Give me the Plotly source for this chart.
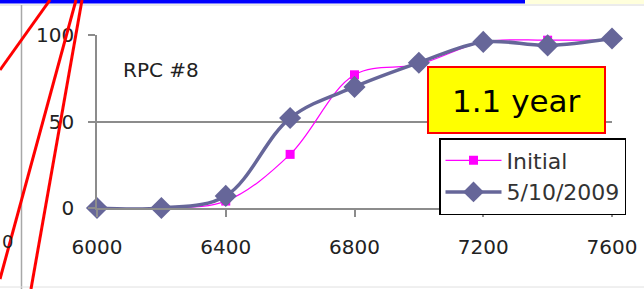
import plotly.graph_objects as go

W, H = 644, 289
ML, MR, MT, MB = 97, 32, 35, 81

x_vals = [6000, 6200, 6400, 6600, 6800, 7000, 7200, 7400, 7600]
initial = [0, 0, 4, 31, 77, 83, 96, 97, 97]
may2009 = [0, 0, 7, 52, 70, 84, 96, 94, 98]
x_ticks = [6000, 6400, 6800, 7200, 7600]
y_ticks = [0, 50, 100]

PW = W - ML - MR
PH = H - MT - MB


def px(x):
    return (x - ML) / PW


def py(y):
    return (H - MB - y) / PH


fig = go.Figure()
fig.add_trace(go.Scatter(
    x=x_vals, y=initial, name="Initial", mode="lines+markers",
    line=dict(color="#FF00FF", width=1.2, shape="spline", smoothing=1),
    marker=dict(symbol="square", size=9, color="#FF00FF"),
    cliponaxis=False,
))
fig.add_trace(go.Scatter(
    x=x_vals, y=may2009, name="5/10/2009", mode="lines+markers",
    line=dict(color="#666699", width=3.5, shape="spline", smoothing=1),
    marker=dict(symbol="diamond", size=17, color="#666699"),
    cliponaxis=False,
))

axis_col = "#8C8C8C"
font_main = "DejaVu Sans"

fig.update_layout(
    width=W, height=H,
    margin=dict(l=ML, r=MR, t=MT, b=MB, pad=0, autoexpand=False),
    paper_bgcolor="white", plot_bgcolor="white",
    showlegend=True,
    legend=dict(
        x=px(439), y=py(138), xanchor="left", yanchor="top",
        bgcolor="white", bordercolor="black", borderwidth=1.5,
        font=dict(family=font_main, size=22, color="#333333"),
        tracegroupgap=0, itemwidth=56,
    ),
    xaxis=dict(
        range=[6000, 7600], tickvals=x_ticks, ticktext=[str(v) for v in x_ticks],
        showgrid=False, zeroline=False, automargin=False,
        showline=True, linecolor=axis_col, linewidth=1.5,
        ticks="outside", ticklen=7, tickcolor=axis_col, tickwidth=1.5,
        tickfont=dict(family=font_main, size=20, color="#222222"),
        ticklabelstandoff=13,
    ),
    yaxis=dict(
        range=[0, 100], tickvals=y_ticks, automargin=False,
        showgrid=True, gridcolor=axis_col, gridwidth=1.5,
        zeroline=False,
        showline=True, linecolor=axis_col, linewidth=1.5,
        ticks="outside", ticklen=7, tickcolor=axis_col, tickwidth=1.5,
        tickfont=dict(family=font_main, size=20, color="#222222"),
        ticklabelstandoff=10,
    ),
)

shapes = []
# top bars
shapes.append(dict(type="rect", xref="paper", yref="paper", x0=px(0), x1=px(525), y0=py(0), y1=py(3.5),
                   fillcolor="#0000FF", line=dict(width=0), layer="above"))
shapes.append(dict(type="rect", xref="paper", yref="paper", x0=px(525), x1=px(644), y0=py(0), y1=py(4),
                   fillcolor="#FFFFDC", line=dict(width=0), layer="above"))
shapes.append(dict(type="line", xref="paper", yref="paper", x0=px(0), x1=px(644), y0=py(5), y1=py(5),
                   line=dict(color="#D8D8D8", width=1)))
# panel borders
shapes.append(dict(type="line", xref="paper", yref="paper", x0=px(21.5), x1=px(21.5), y0=py(5), y1=py(289),
                   line=dict(color="#A8A8A8", width=1.5)))
shapes.append(dict(type="line", xref="paper", yref="paper", x0=px(0), x1=px(644), y0=py(287), y1=py(287),
                   line=dict(color="#E0E0E0", width=1)))
# yellow box
shapes.append(dict(type="rect", xref="paper", yref="paper", x0=px(428), x1=px(605), y0=py(67), y1=py(133),
                   fillcolor="#FFFF00", line=dict(color="#FF0000", width=2), layer="above"))
# red callout lines
for (x0, y0, x1, y1) in [(50, 0, 0, 70), (76, 0, 0, 279), (82, 0, 31, 289)]:
    shapes.append(dict(type="line", xref="paper", yref="paper", x0=px(x0), y0=py(y0), x1=px(x1), y1=py(y1),
                       line=dict(color="#FF0000", width=3), layer="above"))
fig.update_layout(shapes=shapes)

fig.add_annotation(text="RPC #8", xref="paper", yref="paper", x=px(121), y=py(70),
                   xanchor="left", yanchor="middle", showarrow=False,
                   font=dict(family=font_main, size=20, color="#222222"))
fig.add_annotation(text="1.1 year", xref="paper", yref="paper", x=px(516), y=py(101),
                   xanchor="center", yanchor="middle", showarrow=False,
                   font=dict(family=font_main, size=31, color="black"))
fig.add_annotation(text="0", xref="paper", yref="paper", x=px(0), y=py(241),
                   xanchor="left", yanchor="middle", showarrow=False,
                   font=dict(family=font_main, size=18, color="#222222"))

fig.write_html(
    "out.html",
    config={"displayModeBar": False},
    post_script="document.body.style.margin='0';document.body.style.padding='0';document.body.style.overflow='hidden';",
)
